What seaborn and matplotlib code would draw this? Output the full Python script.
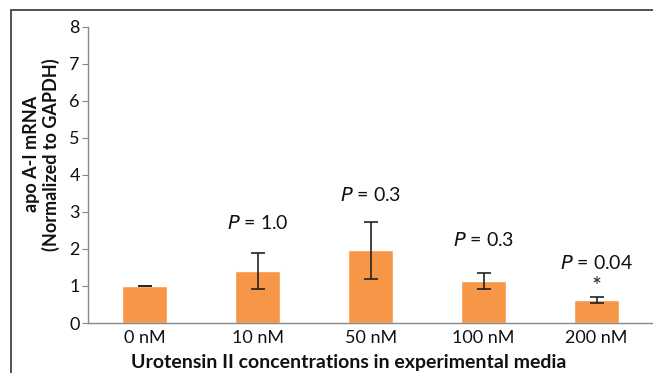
import matplotlib
matplotlib.use('Agg')
import matplotlib.pyplot as plt
import pandas as pd
import seaborn as sns
from matplotlib.patches import Rectangle

# Data
concentrations = ['0 nM', '10 nM', '50 nM', '100 nM', '200 nM']
mrna_means = [1.0, 1.4, 1.97, 1.13, 0.62]
mrna_errors = [0.0, 0.48, 0.77, 0.21, 0.08]
p_labels = ['', '1.0', '0.3', '0.3', '0.04']
p_heights = [0, 2.7, 3.46, 2.24, 1.62]
star_labels = ['', '', '', '', '*']
star_heights = [0, 0, 0, 0, 0.98]

df = pd.DataFrame({'conc': concentrations, 'value': mrna_means, 'err': mrna_errors})

sns.set_style('white')
plt.rcParams['font.family'] = ['Lato', 'DejaVu Sans']

fig = plt.figure(figsize=(6.53, 3.73), dpi=100)
ax = fig.add_axes([0.135, 0.134, 0.865, 0.794])

sns.barplot(data=df, x='conc', y='value', color='#F79646', saturation=1,
            width=0.4, errorbar=None, ax=ax)
ax.errorbar(range(len(df)), df['value'], yerr=df['err'], fmt='none',
            ecolor='#222222', elinewidth=1.2, capsize=5, capthick=1.2)

for i, (lab, h) in enumerate(zip(p_labels, p_heights)):
    if lab:
        ax.text(i, h, r'$\it{P}$ = ' + lab, ha='center', va='center', fontsize=14,
                color='#111111')
for i, (lab, h) in enumerate(zip(star_labels, star_heights)):
    if lab:
        ax.text(i, h, lab, ha='center', va='center', fontsize=17, color='#222222')

ax.set_ylim(0, 8)
ax.set_yticks(range(0, 9))
ax.set_xlim(-0.5, 4.5)
ax.tick_params(axis='both', labelsize=13, length=4, color='#888888', direction='out',
               left=True, bottom=True, labelcolor='#111111', pad=2)
ax.set_xticks([x + 0.5 for x in range(-1, 5)], minor=True)
ax.tick_params(axis='x', which='major', length=0, pad=5)
ax.tick_params(axis='x', which='minor', length=5, color='#888888')
for s in ['top', 'right']:
    ax.spines[s].set_visible(False)
for s in ['left', 'bottom']:
    ax.spines[s].set_color('#888888')
    ax.spines[s].set_linewidth(1)

ax.set_xlabel('Urotensin II concentrations in experimental media', fontsize=14,
              fontweight='bold', labelpad=1, color='#111111')
ax.xaxis.set_label_coords(0.462, -0.105)
ax.set_ylabel('apo A-I mRNA\n(Normalized to GAPDH)', fontsize=13,
              fontweight='bold', labelpad=8, linespacing=1.1, color='#111111')
ax.yaxis.set_label_coords(-0.05, 0.57)

fig.patches.append(Rectangle((11 / 653, -0.05), 1.2, 1 - 10 / 373 + 0.05,
                             transform=fig.transFigure, fill=False,
                             edgecolor='#333333', linewidth=1.2))

fig.savefig('out.png', dpi=100)
